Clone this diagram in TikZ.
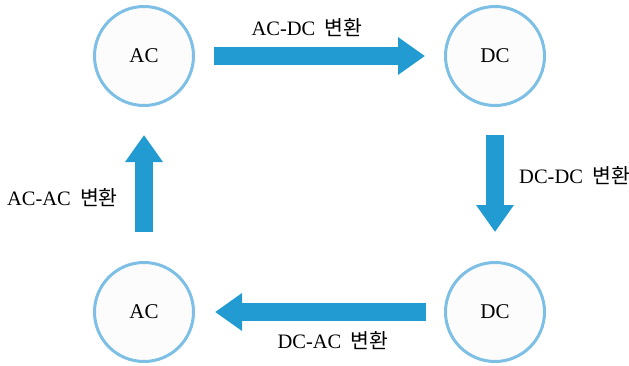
\documentclass[tikz,border=0pt]{standalone}
\usepackage{fontspec}
\setmainfont{Liberation Serif}
\newfontfamily\kr{Noto Sans CJK KR}
\usetikzlibrary{arrows.meta}
\definecolor{ringblue}{HTML}{7DBFE5}
\definecolor{flowblue}{HTML}{229BD3}
\definecolor{ringfill}{HTML}{FCFCFC}
\newcommand{\convlabel}[1]{#1\hspace{0.45em}{\kr 변환}}
\tikzset{
  state/.style={circle, draw=ringblue, line width=3pt, fill=ringfill,
    minimum size=99pt, inner sep=0pt, font=\fontsize{21}{21}\selectfont},
  flow/.style={draw=flowblue, line width=18pt, line cap=butt,
    -{Triangle[length=27pt, width=36pt]}},
  lbl/.style={inner sep=0pt, font=\fontsize{20.5}{21}\selectfont}
}
\begin{document}
\begin{tikzpicture}[x=1pt, y=-1pt]
  \useasboundingbox (0,0) rectangle (629,365);
  % converter states
  \node[state] (ac1) at (144,56) {AC};
  \node[state] (dc1) at (495,56) {DC};
  \node[state] (dc2) at (495,312) {DC};
  \node[state] (ac2) at (144,312) {AC};
  % conversion arrows
  \draw[flow, shorten <=19pt, shorten >=19pt] (ac1.east) -- (dc1.west);
  \draw[flow, shorten <=28pt, shorten >=29pt] (dc1.south) -- (dc2.north);
  \draw[flow, shorten <=18pt, shorten >=20pt] (dc2.west) -- (ac2.east);
  \draw[flow, shorten <=29pt, shorten >=28pt] (ac2.north) -- (ac1.south);
  % labels
  \node[lbl] (l1) at (307,28) {\convlabel{AC-DC}};
  \node[lbl, anchor=west] (l2) at (519,176) {\convlabel{DC-DC}};
  \node[lbl] (l3) at (333,341) {\convlabel{DC-AC}};
  \node[lbl, anchor=east] (l4) at (118,198) {\convlabel{AC-AC}};
\end{tikzpicture}
\end{document}
